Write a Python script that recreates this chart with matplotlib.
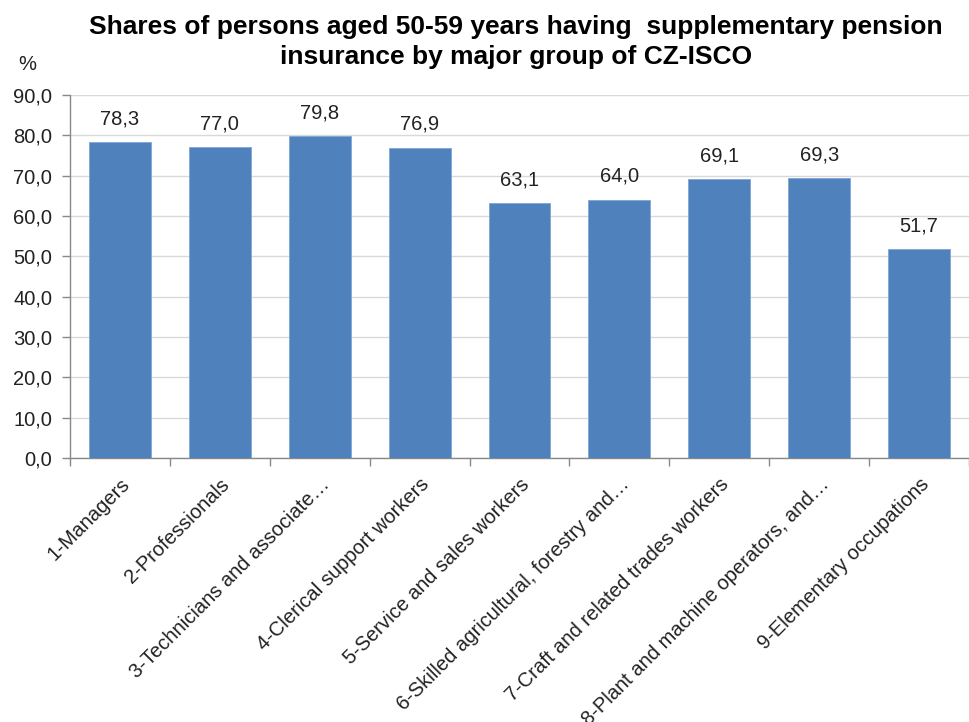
import matplotlib
matplotlib.use("Agg")
import matplotlib.pyplot as plt
from matplotlib.ticker import FuncFormatter

categories = ["1-Managers", "2-Professionals", "3-Technicians and associate…",
              "4-Clerical support workers", "5-Service and sales workers",
              "6-Skilled agricultural, forestry and…", "7-Craft and related trades workers",
              "8-Plant and machine operators, and…", "9-Elementary occupations"]
values = [78.3, 77.0, 79.8, 76.9, 63.1, 64.0, 69.1, 69.3, 51.7]
yticks = [0, 10, 20, 30, 40, 50, 60, 70, 80, 90]

plt.rcParams['font.family'] = ['Liberation Sans', 'DejaVu Sans']

fig = plt.figure(figsize=(9.69, 7.22), dpi=100)
ax = fig.add_axes([70/969, 264/722, 1 - 70/969, 363/722])

x = list(range(len(categories)))
ax.bar(x, values, width=0.62, color='#4F81BD', edgecolor='#7FA6D6', linewidth=0.6, zorder=3)
for xi, v in zip(x, values):
    ax.annotate(f"{v:.1f}".replace('.', ','), (xi, v), xytext=(0, 10), textcoords='offset points',
                ha='center', va='bottom', fontsize=14.5, color='#222222')

ax.set_ylim(0, 90)
ax.set_xlim(-0.5, 8.4)
ax.set_yticks(yticks)
ax.yaxis.set_major_formatter(FuncFormatter(lambda v, p: f"{v:.1f}".replace('.', ',')))
ax.grid(axis='y', color='#D9D9D9', linewidth=1, zorder=0)
ax.set_xticks(x)
ax.set_xticklabels(categories, rotation=45, ha='right', rotation_mode='anchor', fontsize=14.5, color='#222222')
ax.set_xticks([i + 0.5 for i in range(-1, 9)], minor=True)
ax.tick_params(axis='x', which='major', length=0, pad=12)
ax.tick_params(axis='x', which='minor', length=5.8, color='#888888', width=1)
ax.tick_params(axis='y', length=5.8, color='#888888', width=1, labelsize=14.5, labelcolor='#222222', pad=7)
for s in ['top', 'right']:
    ax.spines[s].set_visible(False)
for s in ['left', 'bottom']:
    ax.spines[s].set_color('#888888')
    ax.spines[s].set_linewidth(1)

fig.text(27/969, 1 - 64/722, "%", fontsize=14.5, ha='center', va='center', color='#222222')
fig.text(516/969, 1 - 42/722,
         "Shares of persons aged 50-59 years having  supplementary pension\ninsurance by major group of CZ-ISCO",
         ha='center', va='center', fontsize=19, fontweight='bold', linespacing=1.35)

fig.savefig("out.png", dpi=100)
